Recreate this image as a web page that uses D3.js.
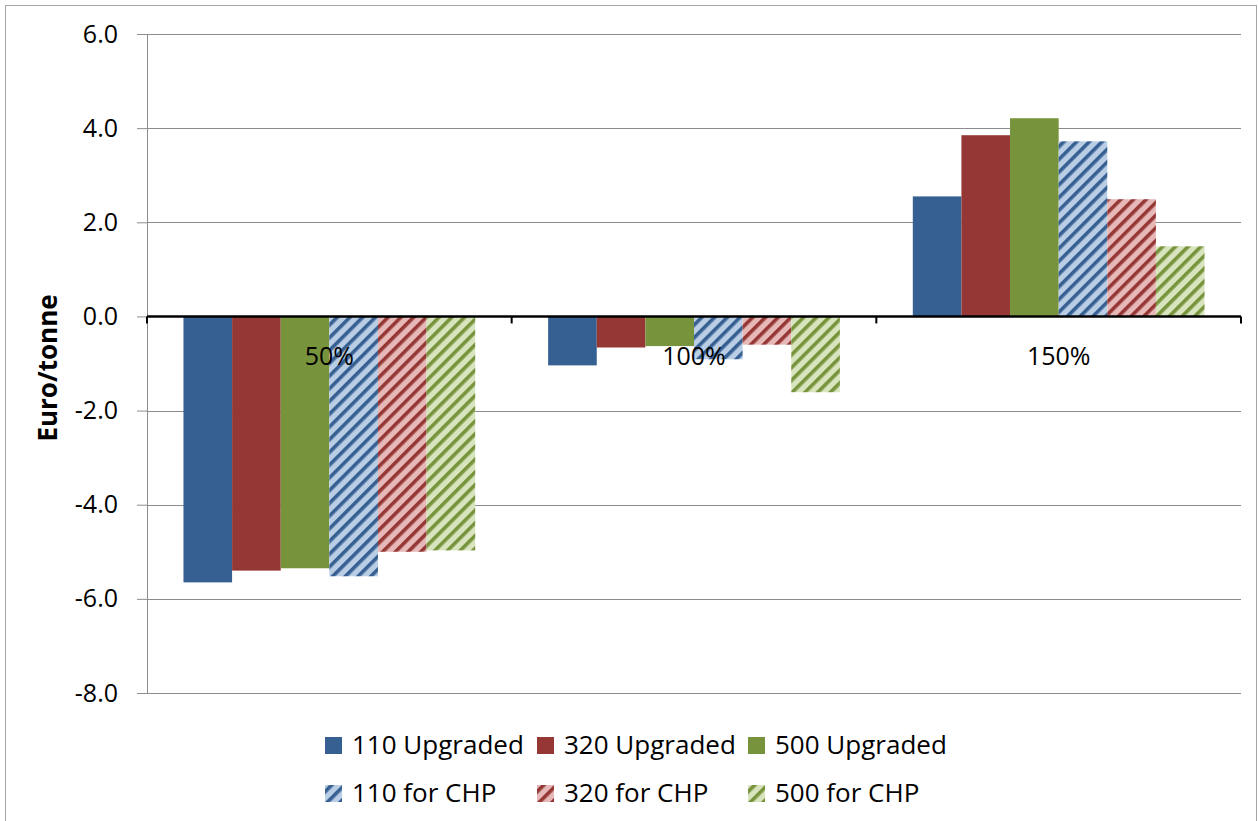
<!DOCTYPE html>
<html>
<head>
<meta charset="utf-8">
<script src="https://cdn.jsdelivr.net/npm/d3@7"></script>
<style>
  body { margin: 0; background: #fff; }
  svg { font-family: "Open Sans", Lato, sans-serif; }
</style>
</head>
<body>
<svg class="chart" width="1258" height="821"></svg>
<script>
// data
const categories = ["50%", "100%", "150%"];
const seriesNames = ["110 Upgraded", "320 Upgraded", "500 Upgraded", "110 for CHP", "320 for CHP", "500 for CHP"];
const values110Up = [-5.65, -1.04, 2.55];
const values320Up = [-5.40, -0.66, 3.85];
const values500Up = [-5.35, -0.63, 4.21];
const values110Chp = [-5.52, -0.91, 3.72];
const values320Chp = [-5.00, -0.60, 2.49];
const values500Chp = [-4.97, -1.61, 1.49];
const yTicks = [-8, -6, -4, -2, 0, 2, 4, 6];

const allValues = [values110Up, values320Up, values500Up, values110Chp, values320Chp, values500Chp];

const dark = ["#376092", "#953735", "#77933C"];
const light = ["#B9CDE5", "#E6B9B8", "#D7E4BD"];

const svg = d3.select(".chart");
const margin = { top: 34, right: 17, bottom: 128, left: 147 };
const width = 1258 - margin.left - margin.right;
const height = 821 - margin.top - margin.bottom;

// outer frame
svg.append("rect")
  .attr("x", 5.5).attr("y", 5.5)
  .attr("width", 1251).attr("height", 820)
  .attr("fill", "none").attr("stroke", "#a6a6a6");

// hatch patterns (wide upward diagonal)
const defs = svg.append("defs");
light.forEach((bg, i) => {
  const p = defs.append("pattern")
    .attr("id", `hatch${i}`)
    .attr("patternUnits", "userSpaceOnUse")
    .attr("width", 9).attr("height", 9)
    .attr("patternTransform", "rotate(45)");
  p.append("rect").attr("width", 9).attr("height", 9).attr("fill", bg);
  p.append("rect").attr("x", 0).attr("y", 0).attr("width", 3.6).attr("height", 9).attr("fill", dark[i]);
});

const fills = [dark[0], dark[1], dark[2], "url(#hatch0)", "url(#hatch1)", "url(#hatch2)"];

const g = svg.append("g").attr("transform", `translate(${margin.left},${margin.top})`);

const y = d3.scaleLinear().domain([-8, 6]).range([height, 0]);
const x0 = d3.scaleBand().domain(categories).range([0, width]).paddingInner(0).paddingOuter(0);
const x1 = d3.scaleBand().domain(d3.range(6)).range([x0.bandwidth() * 0.1, x0.bandwidth() * 0.9]);

// gridlines
g.append("g")
  .selectAll("line")
  .data(yTicks)
  .join("line")
  .attr("x1", 0).attr("x2", width)
  .attr("y1", (d) => Math.round(y(d)) + 0.5)
  .attr("y2", (d) => Math.round(y(d)) + 0.5)
  .attr("stroke", "#8c8c8c")
  .attr("stroke-width", 1);

// y axis
const yAxis = g.append("g")
  .call(d3.axisLeft(y).tickValues(yTicks).tickFormat((d) => d.toFixed(1)).tickSize(10).tickPadding(19));
yAxis.select(".domain").attr("stroke", "#8c8c8c").attr("d", `M0.5,${height}V0`);
yAxis.selectAll(".tick line").attr("stroke", "#8c8c8c");
yAxis.selectAll("text").attr("font-size", 25).attr("fill", "#000").attr("font-family", "'Open Sans', sans-serif");

// bars
const groups = g.append("g")
  .selectAll("g")
  .data(categories)
  .join("g")
  .attr("transform", (d) => `translate(${x0(d)},0)`);

groups.selectAll("rect")
  .data((d, ci) => allValues.map((vals, si) => ({ si, v: vals[ci] })))
  .join("rect")
  .attr("x", (d) => x1(d.si))
  .attr("width", x1.bandwidth())
  .attr("y", (d) => y(Math.max(0, d.v)))
  .attr("height", (d) => Math.abs(y(d.v) - y(0)))
  .attr("fill", (d) => fills[d.si]);

// zero line with category ticks
const xAxis = g.append("g")
  .attr("transform", `translate(0,${y(0)})`)
  .call(d3.axisBottom(x0).tickSize(0).tickFormat(""));
xAxis.select(".domain").attr("stroke", "#000").attr("stroke-width", 2.5).attr("d", `M0,0H${width}`);
g.append("g")
  .selectAll("line")
  .data(d3.range(categories.length + 1))
  .join("line")
  .attr("x1", (d) => d * x0.step()).attr("x2", (d) => d * x0.step())
  .attr("y1", y(0)).attr("y2", y(0) + 7)
  .attr("stroke", "#000").attr("stroke-width", 2);

// category labels
g.append("g")
  .selectAll("text")
  .data(categories)
  .join("text")
  .attr("x", (d) => x0(d) + x0.bandwidth() / 2)
  .attr("y", y(0) + 49)
  .attr("text-anchor", "middle")
  .attr("font-size", 25)
  .text((d) => d);

// y label
svg.append("text")
  .attr("transform", "translate(57,368) rotate(-90)")
  .attr("text-anchor", "middle")
  .attr("font-size", 26)
  .attr("font-weight", "bold")
  .text("Euro/tonne");

// legend
const legendX = [325, 537, 748];
const legendY = [754, 802];
const legend = svg.append("g")
  .selectAll("g")
  .data(seriesNames)
  .join("g")
  .attr("transform", (d, i) => `translate(${legendX[i % 3]},${legendY[Math.floor(i / 3)]})`);
legend.append("rect")
  .attr("x", 0).attr("y", -17)
  .attr("width", 17).attr("height", 17)
  .attr("fill", (d, i) => fills[i]);
legend.append("text")
  .attr("x", 27).attr("y", 0)
  .attr("font-size", 26)
  .text((d) => d);
</script>
</body>
</html>
